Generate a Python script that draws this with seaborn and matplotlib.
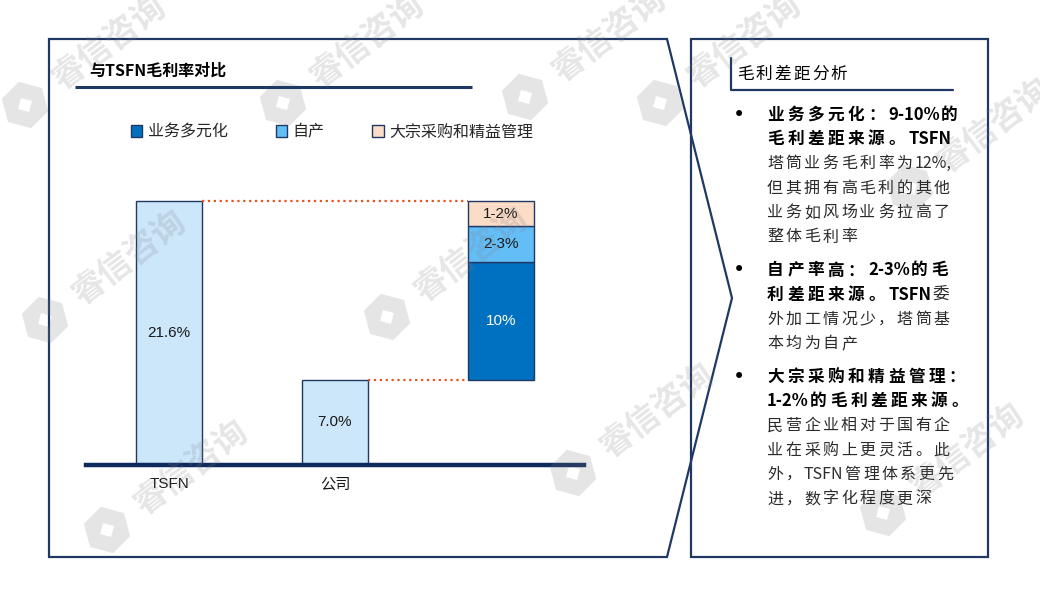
import re
import numpy as np
import pandas as pd
import seaborn as sns
import matplotlib.pyplot as plt
from matplotlib.patches import Patch, Polygon, PathPatch
from matplotlib.path import Path

# ---- data ----
companies = ["TSFN", "公司"]
margins = [21.6, 7.0]                       # gross margin, %
gap_names = ["业务多元化", "自产", "大宗采购和精益管理"]
gap_values = [9.6, 3.0, 2.0]                # stacked on top of 公司
gap_labels = ["10%", "2-3%", "1-2%"]
margin_labels = ["21.6%", "7.0%"]

chart_title = "与TSFN毛利率对比"
side_title = "毛利差距分析"
# (text, bold) segments per line; None marks a new bullet
side_lines = [
    None,
    [("业务多元化：9-10%的", True)],
    [("毛利差距来源。TSFN", True)],
    [("塔筒业务毛利率为12%,", False)],
    [("但其拥有高毛利的其他", False)],
    [("业务如风场业务拉高了", False)],
    [("整体毛利率", False)],
    None,
    [("自产率高：2-3%的毛", True)],
    [("利差距来源。TSFN", True), ("委", False)],
    [("外加工情况少，塔筒基", False)],
    [("本均为自产", False)],
    None,
    [("大宗采购和精益管理：", True)],
    [("1-2%的毛利差距来源。", True)],
    [("民营企业相对于国有企", False)],
    [("业在采购上更灵活。此", False)],
    [("外，TSFN管理体系更先", False)],
    [("进，数字化程度更深", False)],
]
watermark_spots = [(25, 105), (283, 103), (525, 97), (660, 103), (910, 188),
                   (45, 320), (387, 317), (107, 530), (573, 473), (883, 513)]

# ---- style ----
sns.set_style("white")
CJK = "Noto Sans CJK SC"
plt.rcParams["font.family"] = ["Liberation Sans", CJK]
navy = "#1F3864"
pale = "#CCE6FA"
seg_colors = ["#0070C0", "#63BEF8", "#FBDCC7"]

W, H = 1040, 589
fig = plt.figure(figsize=(W / 100, H / 100), dpi=100)
fig.patch.set_facecolor("white")

# chart axes: baseline at y=465px, 12.2 px per %
ax = fig.add_axes([86 / W, (H - 465) / H, 498 / W, 305 / H])
ax.patch.set_alpha(0)
df = pd.DataFrame({"name": companies, "margin": margins})
sns.barplot(data=df, x="name", y="margin", order=companies + [""], color=pale,
            saturation=1, width=0.4, edgecolor=navy, linewidth=1,
            errorbar=None, ax=ax)

bottoms = margins[1] + np.concatenate([[0], np.cumsum(gap_values)[:-1]])
ax.bar([2] * len(gap_values), gap_values, bottom=bottoms, width=0.4,
       color=seg_colors, edgecolor=navy, linewidth=1)

for i, (v, lab) in enumerate(zip(margins, margin_labels)):
    ax.text(i, v / 2, lab, ha="center", va="center", fontsize=11, color="#1a1a1a")
for b, v, lab, c in zip(bottoms, gap_values, gap_labels, ["white", "#1a1a1a", "#1a1a1a"]):
    ax.text(2, b + v / 2, lab, ha="center", va="center", fontsize=11, color=c)

# connectors
ax.plot([0.2, 1.8], [margins[0], margins[0]], ls=":", color="#E8541E", lw=1.6)
ax.plot([1.2, 1.8], [margins[1], margins[1]], ls=":", color="#E8541E", lw=1.6)

ax.set_xlim(-0.5, 2.5)
ax.set_ylim(0, 25)
ax.set_xlabel("")
ax.set_ylabel("")
ax.set_yticks([])
for s in ["top", "left", "right"]:
    ax.spines[s].set_visible(False)
ax.spines["bottom"].set_color("#0F2A5C")
ax.spines["bottom"].set_linewidth(3.2)
ax.tick_params(axis="x", length=0, pad=9, labelsize=11, labelcolor="#1a1a1a")

handles = [Patch(facecolor=c, edgecolor=navy, linewidth=1) for c in seg_colors]
ax.legend(handles, gap_names, ncol=3, loc="center left",
          bbox_to_anchor=(131 / W, 1 - 132 / H), bbox_transform=fig.transFigure,
          frameon=False, handlelength=0.7, handleheight=0.7, handletextpad=0.35,
          columnspacing=3.0, borderpad=0, borderaxespad=0,
          prop={"family": CJK, "size": 11.5})

# overlay in pixel coordinates
top = fig.add_axes([0, 0, 1, 1], zorder=5)
top.set_xlim(0, W)
top.set_ylim(H, 0)
top.axis("off")
top.patch.set_alpha(0)

top.add_patch(Polygon([(49, 39), (667, 39), (732, 298), (667, 557), (49, 557)],
                      closed=True, fill=False, edgecolor=navy, lw=1.6))
top.add_patch(Polygon([(691, 39), (988, 39), (988, 557), (691, 557)],
                      closed=True, fill=False, edgecolor=navy, lw=1.6))

top.text(89, 71, chart_title, fontsize=11.5, fontweight="bold", family=CJK,
         va="center", ha="left", color="black")
top.plot([75, 472], [87, 87], color=navy, lw=2.2, solid_capstyle="butt")
top.plot([731, 731, 953], [58, 90, 90], color=navy, lw=1.6)

renderer = fig.canvas.get_renderer()


def spaced_line(x, y, parts, pitch, size=11.5, color=None):
    for s, bold in parts:
        for tok in re.findall(r"[ -~]+|.", s):
            c = color or ("black" if bold else "#2b2b2b")
            t = top.text(x, y, tok, fontsize=size, family=CJK, color=c,
                         fontweight="bold" if bold else "normal",
                         ha="left", va="center")
            if tok.isascii():
                x += t.get_window_extent(renderer).width + 1
            else:
                x += pitch


spaced_line(737, 74, [(side_title, False)], 18.7, size=12, color="black")

y = 115
first = True
for line in side_lines:
    if line is None:
        if not first:
            y += 9
        first = False
        top.text(739, y, "•", fontsize=15, family="DejaVu Sans", ha="center",
                 va="center", color="black")
        continue
    if line[0][1]:
        spaced_line(767, y, line, 20.2, size=12)
    else:
        spaced_line(767, y, line, 18.5)
    y += 24.4

# watermarks
def logo_path(cx, cy, r=24, hole=8, ang=np.deg2rad(15)):
    a = ang + np.arange(6) * np.pi / 3
    outer = np.c_[cx + r * np.cos(a), cy + r * np.sin(a)]
    b = ang + np.pi / 4 + np.arange(4) * np.pi / 2
    inner = np.c_[cx + hole * np.cos(b), cy + hole * np.sin(b)][::-1]
    verts = np.vstack([outer, outer[:1], inner, inner[:1]])
    codes = ([Path.MOVETO] + [Path.LINETO] * 5 + [Path.CLOSEPOLY]
             + [Path.MOVETO] + [Path.LINETO] * 3 + [Path.CLOSEPOLY])
    return Path(verts, codes)


for cx, cy in watermark_spots:
    top.add_patch(PathPatch(logo_path(cx, cy), facecolor="#808080", edgecolor="none",
                            alpha=0.2))
    top.text(cx + 85, cy - 62, "睿信咨询", fontsize=24, fontweight="bold", family=CJK,
             color="#808080", alpha=0.2, rotation=37, ha="center", va="center",
             rotation_mode="anchor")

fig.savefig("out.png", dpi=100, facecolor="white")
